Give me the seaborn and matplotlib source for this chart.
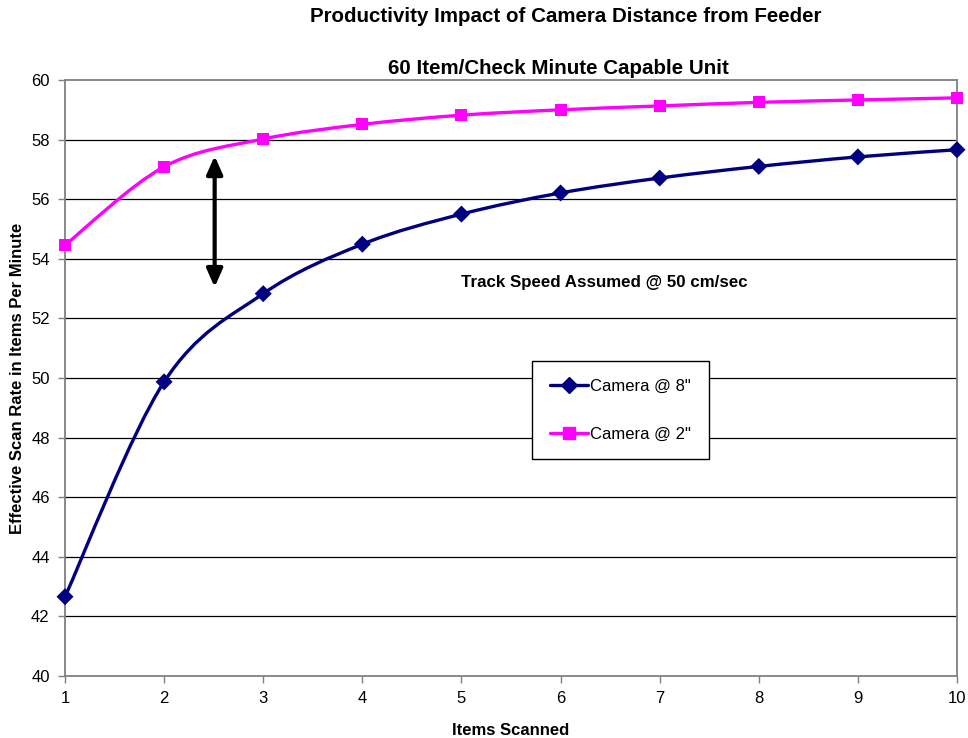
import numpy as np
import pandas as pd
import matplotlib
matplotlib.use("Agg")
import matplotlib.pyplot as plt
from matplotlib.path import Path
from matplotlib.patches import PathPatch
from matplotlib.lines import Line2D
import seaborn as sns

items = [1, 2, 3, 4, 5, 6, 7, 8, 9, 10]
camera_8 = [42.66, 49.87, 52.83, 54.49, 55.50, 56.21, 56.71, 57.10, 57.42, 57.66]
camera_2 = [54.46, 57.09, 58.02, 58.51, 58.82, 59.00, 59.13, 59.25, 59.33, 59.40]
series_names = ['Camera @ 8"', 'Camera @ 2"']
y_ticks = [40, 42, 44, 46, 48, 50, 52, 54, 56, 58, 60]
colors = {'Camera @ 8"': "#000080", 'Camera @ 2"': "#FF00FF"}
markers = {'Camera @ 8"': "D", 'Camera @ 2"': "s"}

df = pd.concat([
    pd.DataFrame({"Items": items, "Rate": camera_8, "Series": series_names[0]}),
    pd.DataFrame({"Items": items, "Rate": camera_2, "Series": series_names[1]}),
])

sns.set_theme(style="white")
plt.rcParams["font.family"] = ["Liberation Sans", "DejaVu Sans"]
plt.rcParams["text.color"] = "black"
plt.rcParams["axes.labelcolor"] = "black"

fig = plt.figure(figsize=(9.68, 7.38), dpi=100)
ax = fig.add_axes([65 / 968, 1 - 676 / 738, (957 - 65) / 968, (676 - 80) / 738])


def smooth_path(xs, ys):
    pts = np.column_stack([xs, ys]).astype(float)
    n = len(pts)
    verts = [pts[0]]
    codes = [Path.MOVETO]
    for i in range(n - 1):
        p0 = pts[i - 1] if i > 0 else pts[i]
        p1 = pts[i]
        p2 = pts[i + 1]
        p3 = pts[i + 2] if i + 2 < n else pts[i + 1]
        c1 = p1 + (p2 - p0) / 6.0
        c2 = p2 - (p3 - p1) / 6.0
        verts += [c1, c2, p2]
        codes += [Path.CURVE4] * 3
    return Path(verts, codes)


for name in series_names:
    sub = df[df["Series"] == name]
    patch = PathPatch(smooth_path(sub["Items"].values, sub["Rate"].values),
                      facecolor="none", edgecolor=colors[name], lw=2.4,
                      transform=ax.transData, zorder=3, capstyle="round")
    ax.add_patch(patch)

sns.scatterplot(data=df, x="Items", y="Rate", hue="Series", style="Series",
                palette=colors, markers=markers, s=75, edgecolor="none",
                legend=False, ax=ax, zorder=4, clip_on=False)

ax.set_xlim(1, 10)
ax.set_ylim(40, 60)
ax.set_xticks(items)
ax.set_yticks(y_ticks)
for yv in y_ticks[1:-1]:
    ax.axhline(yv, color="black", lw=0.9, zorder=1)

for s in ax.spines.values():
    s.set_visible(True)
    s.set_color("#808080")
    s.set_linewidth(1.3)

ax.tick_params(axis="both", which="both", direction="out", length=5, width=1,
               color="#808080", labelsize=12, labelcolor="black", pad=6,
               left=True, bottom=True)

ax.set_xlabel("Items Scanned", fontsize=12, fontweight="bold", labelpad=12)
ax.set_ylabel("")
fig.text(18 / 968, 1 - 378 / 738, "Effective Scan Rate in Items Per Minute",
         rotation=90, ha="center", va="center", fontsize=12, fontweight="bold")

fig.text(566 / 968, 1 - 17 / 738, "Productivity Impact of Camera Distance from Feeder",
         ha="center", va="center", fontsize=14.8, fontweight="bold")
fig.text(558 / 968, 1 - 68 / 738, "60 Item/Check Minute Capable Unit",
         ha="center", va="center", fontsize=14.8, fontweight="bold")

ax.text(6.44, 53.2, "Track Speed Assumed @ 50 cm/sec", ha="center", va="center",
        fontsize=12.2, fontweight="bold")

ax.annotate("", xy=(2.51, 57.45), xytext=(2.51, 53.05),
            arrowprops=dict(arrowstyle="<|-|>,head_length=0.9,head_width=0.4",
                            color="black", lw=3, shrinkA=0, shrinkB=0), zorder=5)

handles = [Line2D([], [], color=colors[n], marker=markers[n], lw=2.4,
                  markersize=8 if n == series_names[0] else 9) for n in series_names]
leg = ax.legend(handles, series_names, loc="upper left",
                bbox_to_anchor=(532 / 968, 1 - 361 / 738), bbox_transform=fig.transFigure,
                frameon=True, fancybox=False, edgecolor="black", fontsize=12,
                handlelength=2.3, handletextpad=0.15, labelspacing=2.0,
                borderpad=1.05, borderaxespad=0, framealpha=1)
leg.get_frame().set_linewidth(1.0)
leg.set_zorder(6)

fig.savefig("out.png", dpi=100)
